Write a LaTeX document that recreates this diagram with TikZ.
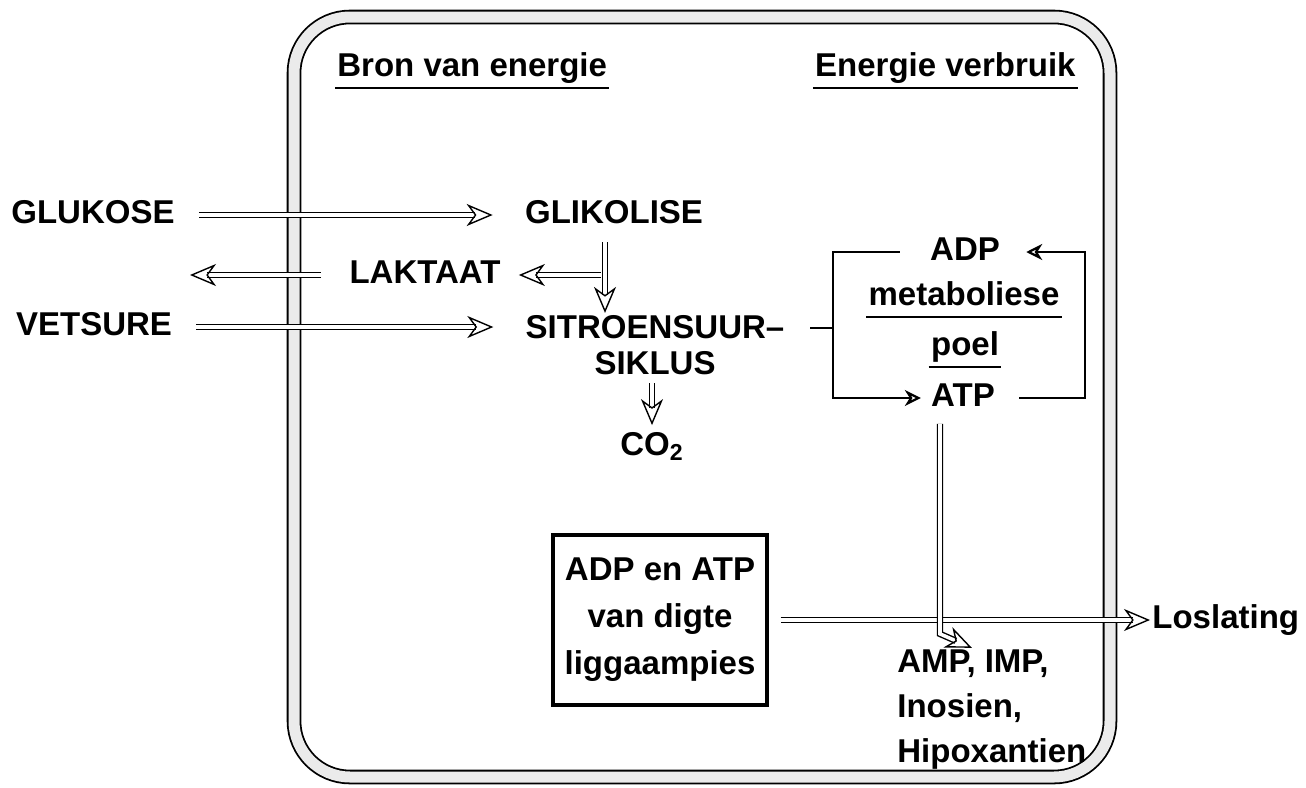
\documentclass[tikz,border=0pt]{standalone}
\usepackage{fontspec}
\setmainfont{Liberation Sans}
\usetikzlibrary{arrows.meta,positioning,calc}
\tikzset{
  lbl/.style={font=\fontsize{16.5}{19}\selectfont\bfseries, inner sep=1pt, align=center},
  one/.style={lbl, text height=12pt, text depth=3.5pt},
  pipe/.style={draw=black, line width=0.7pt, double=white, double distance=1.8pt, -{Stealth[open, length=13pt, width=11pt, inset=4pt]}},
  arr/.style={line width=1.1pt, -{Stealth[open, length=8pt, width=8pt, inset=2.5pt]}},
  ln/.style={line width=1.1pt},
  ul/.style={line width=1.3pt},
  memb/.style={draw=black, line width=0.9pt, double=black!8, double distance=5.5pt, rounded corners=28pt},
}
\begin{document}
\begin{tikzpicture}[x=0.5pt, y=-0.5pt]
  \useasboundingbox (0,0) rectangle (1306,787);
  % cell membrane
  \draw[memb] (294,17) rectangle (1110,777);
  % headings
  \node[one, anchor=west] (bron) at (335,68) {Bron van energie};
  \node[one, anchor=east] (verb) at (1078,68) {Energie verbruik};
  \draw[ul] ([yshift=-1pt]bron.south west) -- ([yshift=-1pt]bron.south east);
  \draw[ul] ([yshift=-1pt]verb.south west) -- ([yshift=-1pt]verb.south east);
  % energy sources
  \node[one] (glu) at (93,215) {GLUKOSE};
  \node[one] (vet) at (94,327) {VETSURE};
  \node[one] (lak) at (425,275) {LAKTAAT};
  \node[one] (gli) at (614,215) {GLIKOLISE};
  \node[lbl, font=\fontsize{16.5}{18}\selectfont\bfseries] (sit) at (655,345) {SITROENSUUR--\\SIKLUS};
  \node[one] (co) at (652,447) {CO\textsubscript{2}};
  \coordinate (st) at (605,242);
  \coordinate (out) at (190,275);
  \draw[pipe] ([xshift=11pt]glu.east) -- ([xshift=-15pt]gli.west);
  \draw[pipe] ([xshift=11pt]vet.east) -- ([xshift=-15pt]vet.east -| sit.west);
  \draw[pipe] ([xshift=-13pt]lak.west) -- (out);
  \draw[pipe] (st) -- (st |- sit.north);
  \draw[pipe] ($(st)+(-4,33)$) -- ([xshift=8pt]lak.east);
  \draw[pipe] ([yshift=-3pt]sit.south -| co) -- ([yshift=2pt]co.north);
  % metabolic pool
  \node[one] (adp) at (965,252) {ADP};
  \node[one] (met) at (964,297) {metaboliese};
  \node[one] (poel) at (965,347) {poel};
  \node[one] (atp) at (963,398) {ATP};
  \draw[ul] ([yshift=-1pt]met.south west) -- ([yshift=-1pt]met.south east);
  \draw[ul] ([yshift=-1pt]poel.south west) -- ([yshift=-1pt]poel.south east);
  \coordinate (br) at (810,328);
  \coordinate (bl) at (833,0);
  \coordinate (rl) at (1085,0);
  \draw[ln] (br) -- (bl |- br);
  \draw[arr] ([xshift=-14pt]adp.west) -| (bl |- atp.west) -- ([xshift=-4pt]atp.west);
  \draw[arr] ([xshift=11pt]atp.east) -| (rl |- adp.east) -- ([xshift=12pt]adp.east);
  % dense bodies and breakdown
  \node[lbl, draw, line width=1.6pt, font=\fontsize{16.5}{23.5}\selectfont\bfseries, minimum width=107pt, minimum height=85pt] (box) at (660,620) {ADP en ATP\\van digte\\liggaampies};
  \node[lbl, anchor=west, align=left, font=\fontsize{16.5}{22.5}\selectfont\bfseries] (amp) at (895,710) {AMP, IMP,\\Inosien,\\Hipoxantien};
  \node[one, anchor=west] (los) at (1150,620) {Loslating};
  \draw[pipe] ([xshift=6pt]box.east) -- (los.west);
  \draw[pipe] ([xshift=-11.5pt,yshift=-4pt]atp.south) -- ++(0,210) -- ([xshift=-10pt]amp.north);
\end{tikzpicture}
\end{document}
